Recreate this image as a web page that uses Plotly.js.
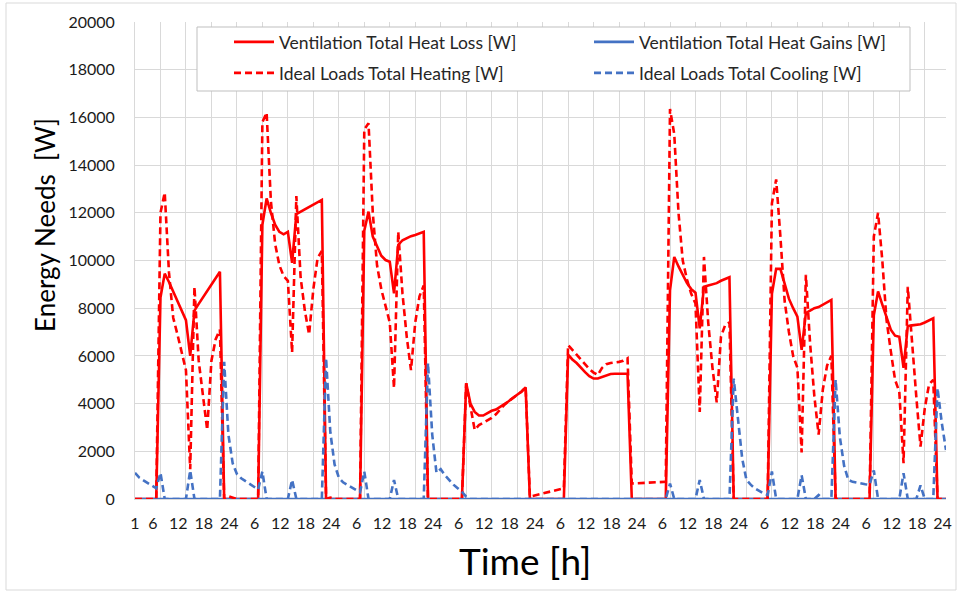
<!DOCTYPE html>
<html>
<head>
<meta charset="utf-8">
<script src="https://cdn.plot.ly/plotly-3.0.1.min.js"></script>
<style>
  html, body { margin: 0; padding: 0; background: #ffffff; }
  #chart { width: 964px; height: 595px; }
</style>
</head>
<body>
<div id="chart"></div>
<script>
// ---- Data (8 days x 24 hourly values) ----
const hours = Array.from({length: 192}, (_, i) => i + 1);

const ventilationHeatLoss = [
  // day 1
  0,0,0,0,0,0, 8450,9450,9100,8700,8300,7900,7500,6000,7900,8180,8450,8720,8990,9260,9530,0,0,0,
  // day 2
  0,0,0,0,0,0, 11500,12600,12000,11500,11200,11100,11200,9900,11950,12050,12150,12230,12320,12420,12540,0,0,0,
  // day 3
  0,0,0,0,0,0, 11250,12050,11000,10600,10200,10020,9950,8620,10650,10850,10950,11020,11070,11130,11200,0,0,0,
  // day 4
  0,0,0,0,0,0, 4850,4000,3650,3500,3500,3600,3700,3750,3850,3980,4100,4250,4370,4500,4680,0,0,0,
  // day 5
  0,0,0,0,0,0, 6050,5850,5700,5500,5320,5150,5050,5050,5120,5200,5240,5250,5250,5250,5250,0,0,0,
  // day 6
  0,0,0,0,0,0, 8750,10150,9750,9400,9050,8800,8650,7150,8900,8950,9000,9050,9150,9230,9300,0,0,0,
  // day 7
  0,0,0,0,0,0, 8600,9650,9650,9000,8400,8000,7650,6250,7800,7900,8000,8050,8150,8250,8350,0,0,0,
  // day 8
  0,0,0,0,0,0, 7700,8700,8150,7600,7100,6850,6800,5500,7250,7280,7300,7330,7400,7480,7580,0,0,0
];

const ventilationHeatGains = [
  0,0,0,0,0,0,0,0,0,0,0,0,0,0,0,0,0,0,0,0,0,0,0,0,
  0,0,0,0,0,0,0,0,0,0,0,0,0,0,0,0,0,0,0,0,0,0,0,0,
  0,0,0,0,0,0,0,0,0,0,0,0,0,0,0,0,0,0,0,0,0,0,0,0,
  0,0,0,0,0,0,0,0,0,0,0,0,0,0,0,0,0,0,0,0,0,0,0,0,
  0,0,0,0,0,0,0,0,0,0,0,0,0,0,0,0,0,0,0,0,0,0,0,0,
  0,0,0,0,0,0,0,0,0,0,0,0,0,0,0,0,0,0,0,0,0,0,0,0,
  0,0,0,0,0,0,0,0,0,0,0,0,0,0,0,0,0,0,0,0,0,0,0,0,
  0,0,0,0,0,0,0,0,0,0,0,0,0,0,0,0,0,0,0,0,0,0,0,0
];

const idealHeating = [
  // day 1
  0,0,0,0,0,0, 12000,12850,9500,7600,6900,6200,5400,1250,8900,5800,4400,2900,5800,6700,7100,0,120,60,
  // day 2
  0,0,0,0,0,0, 15800,16200,12500,10700,9800,9350,9150,6150,12700,9300,7900,6900,8800,10100,10400,0,60,0,
  // day 3
  0,0,0,0,0,0, 15500,15750,12000,9800,8800,8100,7400,4650,11200,8600,6800,5400,7400,8500,8950,0,0,0,
  // day 4
  0,0,0,0,0,0, 4850,3900,2900,3100,3200,3300,3400,3550,3750,3950,4100,4250,4370,4500,4680,100,140,180,
  // day 5
  220,260,300,340,390,450, 6450,6250,6050,5850,5650,5450,5300,5200,5500,5650,5700,5720,5750,5800,5900,650,660,670,
  // day 6
  670,680,690,690,700,720, 16350,15300,12000,10000,9200,8600,8200,3650,10150,7400,5500,4050,6800,7300,7400,0,0,0,
  // day 7
  0,0,0,0,0,0, 12400,13400,11000,8300,7000,6000,5500,1950,9400,6500,4300,2700,4600,5600,6000,0,0,0,
  // day 8
  0,0,0,0,0,0, 11000,12000,10000,7500,6200,5000,4500,1500,8900,6500,4300,2200,3800,4800,5000,0,0,0
];

const idealCooling = [
  // day 1
  1100,900,780,670,560,450, 1100,0,0,0,0,0,0,1200,0,0,0,0,0,0,0,5750,2700,1500,
  // day 2
  1050,870,760,650,520,400, 1150,0,0,0,0,0,0,800,0,0,0,0,0,0,0,5900,2800,1450,
  // day 3
  900,700,590,490,380,280, 1150,0,0,0,0,0,0,800,0,0,0,0,0,0,0,5700,2700,1100,
  // day 4
  1250,1000,800,600,450,300, 100,0,0,0,0,0,0,0,0,0,0,0,0,0,0,0,0,0,
  // day 5
  0,0,0,0,0,0, 0,0,0,0,0,0,0,0,0,0,0,0,0,0,0,0,0,0,
  // day 6
  0,0,0,0,0,0, 650,0,0,0,0,0,0,800,0,0,0,0,0,0,0,5050,3300,1700,
  // day 7
  800,600,450,330,240,170, 1150,0,0,0,0,0,0,1000,0,0,0,170,0,0,0,5000,2600,1400,
  // day 8
  800,720,680,650,620,600, 1200,0,0,0,0,0,0,1080,0,0,0,570,0,0,0,4650,3200,2050
];

const seriesNames = [
  'Ventilation Total Heat Loss [W]',
  'Ventilation Total Heat Gains [W]',
  'Ideal Loads Total Heating [W]',
  'Ideal Loads Total Cooling [W]'
];

const dayHourLabels = ['6', '12', '18', '24'];
const dayHours = [6, 12, 18, 24];
const nDays = 8;

// tick positions / labels built from the label lists
const tickVals = [1];
const tickText = ['1'];
for (let d = 0; d < nDays; d++) {
  dayHours.forEach((h, k) => {
    tickVals.push(d * 24 + h - 0.8);
    tickText.push(dayHourLabels[k]);
  });
}
const gridVals = [];
for (let v = 7; v <= 192; v += 6) gridVals.push(v);

const RED = '#FF0000';
const BLUE = '#4472C4';
const FONT = 'Lato, "Open Sans", sans-serif';

const traces = [
  {x: hours, y: ventilationHeatLoss, name: seriesNames[0], type: 'scatter', mode: 'lines',
   line: {color: RED, width: 2.6}, legend: 'legend'},
  {x: hours, y: ventilationHeatGains, name: seriesNames[1], type: 'scatter', mode: 'lines',
   line: {color: BLUE, width: 2.6}, legend: 'legend2'},
  {x: hours, y: idealHeating, name: seriesNames[2], type: 'scatter', mode: 'lines',
   line: {color: RED, width: 2.6, dash: '7px,4px'}, legend: 'legend3'},
  {x: hours, y: idealCooling, name: seriesNames[3], type: 'scatter', mode: 'lines',
   line: {color: BLUE, width: 2.6, dash: '7px,4px'}, legend: 'legend4'}
];

const PL = 135, PR = 946, PT = 22, PB = 499;
const W = 964, H = 595;
const px2paperX = p => (p - PL) / (PR - PL);
const py2paperY = p => (PB - p) / (PB - PT);

const legendCommon = {
  orientation: 'v', xanchor: 'left', yanchor: 'middle',
  bgcolor: 'rgba(0,0,0,0)', borderwidth: 0,
  font: {family: FONT, size: 17.5, color: '#262626'},
  itemwidth: 40
};

const layout = {
  width: W, height: H,
  margin: {l: PL, r: W - PR, t: PT, b: H - PB, pad: 0},
  paper_bgcolor: '#ffffff', plot_bgcolor: '#ffffff',
  font: {family: FONT, size: 16, color: '#262626'},
  showlegend: true,
  legend:  Object.assign({}, legendCommon, {x: px2paperX(229), y: py2paperY(42)}),
  legend2: Object.assign({}, legendCommon, {x: px2paperX(589), y: py2paperY(42)}),
  legend3: Object.assign({}, legendCommon, {x: px2paperX(229), y: py2paperY(73)}),
  legend4: Object.assign({}, legendCommon, {x: px2paperX(589), y: py2paperY(73)}),
  xaxis: {
    range: [1, 192], fixedrange: true,
    tickmode: 'array', tickvals: tickVals, ticktext: tickText,
    showgrid: false, zeroline: false, ticks: '',
    showline: true, linecolor: '#d9d9d9', linewidth: 1,
    ticklabelstandoff: 10,
    tickfont: {family: FONT, size: 16, color: '#1a1a1a'},
    minor: {tickmode: 'array', tickvals: gridVals, showgrid: true,
            gridcolor: '#d9d9d9', gridwidth: 1, ticks: ''}
  },
  yaxis: {
    range: [0, 20000], fixedrange: true,
    tickmode: 'linear', tick0: 0, dtick: 2000, tickformat: 'd',
    showgrid: true, gridcolor: '#d9d9d9', gridwidth: 1,
    zeroline: false, ticks: '',
    showline: true, linecolor: '#d9d9d9', linewidth: 1,
    ticklabelstandoff: 16,
    tickfont: {family: FONT, size: 16, color: '#1a1a1a'}
  },
  shapes: [
    // legend box
    {type: 'rect', xref: 'paper', yref: 'paper', layer: 'above',
     x0: px2paperX(197), x1: px2paperX(910), y0: py2paperY(91), y1: py2paperY(27),
     fillcolor: '#ffffff', line: {color: '#bfbfbf', width: 1}},
    // chart area border
    {type: 'rect', xref: 'paper', yref: 'paper', layer: 'below',
     x0: px2paperX(6), x1: px2paperX(956), y0: py2paperY(590), y1: py2paperY(3),
     fillcolor: 'rgba(0,0,0,0)', line: {color: '#d9d9d9', width: 1}}
  ],
  annotations: [
    {text: 'Energy Needs\u00a0 [W]', xref: 'paper', yref: 'paper',
     x: px2paperX(45), y: py2paperY(225), xanchor: 'center', yanchor: 'middle',
     textangle: -90, showarrow: false,
     font: {family: FONT, size: 26, color: '#000000'}},
    {text: 'Time [h]', xref: 'paper', yref: 'paper',
     x: px2paperX(525), y: py2paperY(560), xanchor: 'center', yanchor: 'middle',
     showarrow: false,
     font: {family: FONT, size: 37, color: '#000000'}}
  ]
};

Plotly.newPlot('chart', traces, layout, {displayModeBar: false, staticPlot: true});
</script>
</body>
</html>
